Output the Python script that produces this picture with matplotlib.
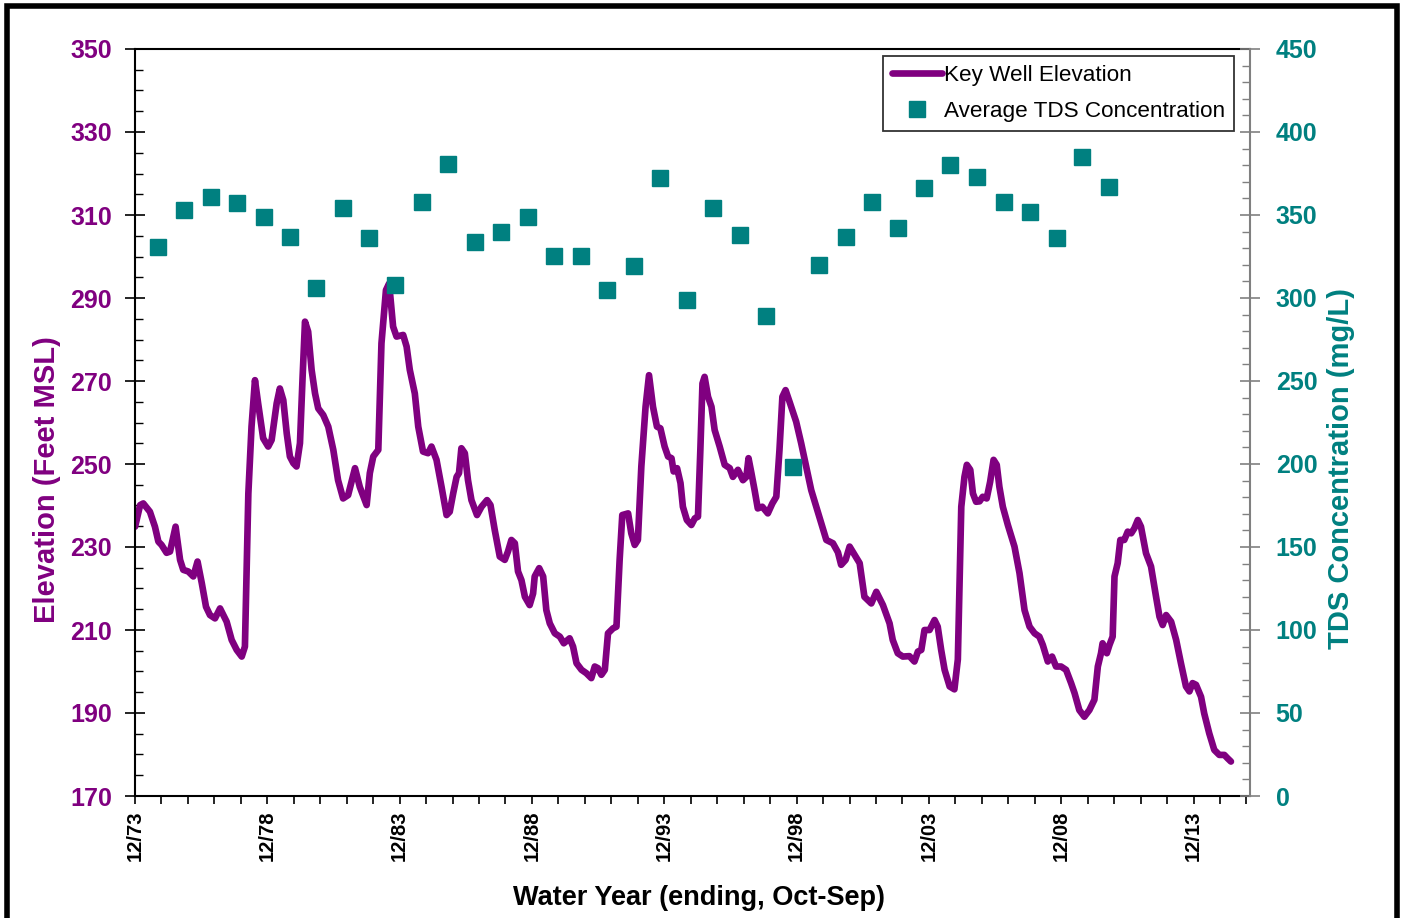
import matplotlib
matplotlib.use("Agg")
import matplotlib.pyplot as plt
from matplotlib.patches import Rectangle
from matplotlib.ticker import FixedLocator, MultipleLocator

plt.rcParams['font.family'] = ['Liberation Sans', 'DejaVu Sans']
plt.rcParams['font.weight'] = 'bold'

# ---------------- data ----------------
elev_dates = [
    1973.92, 1974.11, 1974.23, 1974.48, 1974.67, 1974.80, 1974.92, 1975.11, 1975.24, 1975.45,
    1975.62, 1975.74, 1975.93, 1976.12, 1976.28, 1976.44, 1976.60, 1976.75, 1976.94, 1977.13,
    1977.38, 1977.57, 1977.76, 1977.95, 1978.07, 1978.20, 1978.32, 1978.45, 1978.57, 1978.76,
    1978.95, 1979.08, 1979.27, 1979.39, 1979.52, 1979.65, 1979.77, 1979.90, 1980.02, 1980.15,
    1980.25, 1980.34, 1980.46, 1980.59, 1980.72, 1980.84, 1981.03, 1981.22, 1981.41, 1981.59,
    1981.78, 1981.97, 1982.23, 1982.41, 1982.67, 1982.79, 1982.92, 1983.11, 1983.23, 1983.40,
    1983.52, 1983.67, 1983.80, 1984.05, 1984.18, 1984.30, 1984.49, 1984.62, 1984.80, 1984.99,
    1985.12, 1985.31, 1985.50, 1985.69, 1985.81, 1985.94, 1986.07, 1986.16, 1986.25, 1986.38,
    1986.50, 1986.63, 1986.84, 1987.01, 1987.22, 1987.35, 1987.51, 1987.70, 1987.89, 1988.01,
    1988.14, 1988.27, 1988.39, 1988.52, 1988.65, 1988.83, 1988.96, 1989.02, 1989.19, 1989.34,
    1989.46, 1989.59, 1989.78, 1989.97, 1990.12, 1990.34, 1990.47, 1990.60, 1990.79, 1990.97,
    1991.16, 1991.29, 1991.41, 1991.54, 1991.67, 1991.79, 1991.98, 1992.11, 1992.23, 1992.33,
    1992.55, 1992.67, 1992.80, 1992.92, 1993.05, 1993.21, 1993.34, 1993.49, 1993.64, 1993.77,
    1993.93, 1994.06, 1994.19, 1994.27, 1994.40, 1994.53, 1994.62, 1994.77, 1994.94, 1995.07,
    1995.19, 1995.28, 1995.36, 1995.44, 1995.57, 1995.70, 1995.82, 1996.01, 1996.20, 1996.39,
    1996.51, 1996.70, 1996.89, 1997.02, 1997.10, 1997.21, 1997.33, 1997.45, 1997.62, 1997.83,
    1998.00, 1998.15, 1998.27, 1998.38, 1998.50, 1998.65, 1998.90, 1999.09, 1999.28, 1999.47,
    1999.66, 1999.85, 2000.04, 2000.29, 2000.48, 2000.60, 2000.77, 2000.92, 2001.11, 2001.30,
    2001.48, 2001.74, 2001.93, 2002.18, 2002.43, 2002.55, 2002.74, 2002.93, 2003.18, 2003.37,
    2003.50, 2003.63, 2003.75, 2003.94, 2004.13, 2004.25, 2004.38, 2004.51, 2004.70, 2004.88,
    2005.01, 2005.14, 2005.26, 2005.35, 2005.48, 2005.58, 2005.70, 2005.83, 2005.95, 2006.10,
    2006.23, 2006.36, 2006.48, 2006.58, 2006.71, 2006.90, 2007.15, 2007.34, 2007.53, 2007.72,
    2007.91, 2008.09, 2008.22, 2008.41, 2008.57, 2008.72, 2008.91, 2009.10, 2009.29, 2009.42,
    2009.60, 2009.79, 2009.98, 2010.17, 2010.30, 2010.42, 2010.48, 2010.64, 2010.74, 2010.86,
    2010.93, 2011.05, 2011.15, 2011.30, 2011.43, 2011.56, 2011.68, 2011.81, 2011.93, 2012.12,
    2012.31, 2012.50, 2012.63, 2012.75, 2012.88, 2013.07, 2013.26, 2013.44, 2013.63, 2013.76,
    2013.88, 2014.01, 2014.20, 2014.32, 2014.51, 2014.70, 2014.89, 2015.08, 2015.20, 2015.33,
]
elev_values = [
    234.9, 240.1, 240.5, 238.5, 234.9, 231.3, 230.5, 228.6, 228.9, 234.9,
    226.9, 224.5, 224.1, 222.9, 226.5, 221.3, 215.6, 213.6, 212.8, 215.2,
    212.0, 207.6, 205.2, 203.6, 206.0, 242.9, 259.0, 270.2, 264.6, 256.2,
    254.2, 255.8, 264.6, 268.2, 265.4, 257.4, 251.8, 250.2, 249.4, 255.0,
    271.0, 284.3, 281.9, 272.7, 267.0, 263.4, 261.8, 259.0, 253.4, 246.1,
    241.7, 242.5, 249.0, 244.5, 240.1, 247.8, 251.8, 253.4, 279.1, 291.9,
    293.5, 283.1, 280.7, 281.1, 278.3, 272.7, 267.0, 259.0, 253.0, 252.6,
    254.2, 251.0, 244.5, 237.7, 238.5, 242.9, 246.9, 247.8, 253.8, 252.6,
    246.1, 241.3, 237.7, 239.7, 241.3, 240.1, 234.1, 227.7, 226.9, 228.9,
    231.7, 230.9, 224.1, 222.0, 218.0, 216.0, 218.8, 222.9, 224.9, 222.9,
    214.8, 211.6, 209.2, 208.4, 206.8, 208.0, 206.0, 202.0, 200.4, 199.6,
    198.4, 201.2, 200.8, 199.2, 200.4, 209.2, 210.4, 210.8, 226.9, 237.7,
    238.1, 233.3, 230.5, 231.7, 249.4, 263.8, 271.4, 263.8, 259.0, 258.6,
    254.2, 251.8, 251.4, 248.2, 249.0, 245.4, 239.7, 236.5, 235.3, 236.9,
    237.3, 253.4, 269.4, 271.0, 266.2, 263.8, 258.2, 254.2, 249.8, 249.0,
    246.9, 248.6, 246.1, 246.9, 251.4, 247.8, 243.7, 239.3, 239.7, 238.1,
    240.5, 242.1, 253.4, 266.2, 267.8, 265.0, 260.2, 255.0, 249.4, 243.7,
    239.7, 235.7, 231.7, 230.9, 228.7, 225.7, 226.9, 230.1, 228.1, 226.1,
    218.0, 216.4, 219.2, 216.0, 211.6, 207.6, 204.4, 203.6, 203.7, 202.4,
    204.8, 205.2, 210.0, 210.0, 212.4, 210.8, 205.2, 200.4, 196.4, 195.7,
    202.9, 239.7, 246.9, 249.8, 248.6, 242.9, 240.9, 241.0, 242.1, 241.7,
    245.7, 251.0, 249.8, 244.5, 239.7, 235.3, 230.1, 223.7, 214.8, 210.8,
    209.2, 208.4, 206.4, 202.4, 203.6, 201.2, 201.2, 200.4, 197.2, 194.8,
    190.7, 189.1, 190.7, 193.2, 201.2, 204.4, 206.8, 204.4, 206.4, 208.4,
    222.9, 226.1, 231.7, 231.7, 233.7, 233.3, 234.5, 236.5, 234.9, 228.5,
    225.3, 218.0, 213.2, 211.2, 213.6, 212.0, 207.6, 202.0, 196.4, 195.2,
    197.2, 196.8, 193.9, 189.9, 185.1, 181.1, 179.9, 179.9, 179.1, 178.3,
]

tds_dates = [
    1974.79, 1975.77, 1976.79, 1977.77, 1978.79, 1979.77, 1980.75, 1981.77, 1982.75, 1983.73,
    1984.75, 1985.73, 1986.75, 1987.74, 1988.76, 1989.74, 1990.76, 1991.74, 1992.76, 1993.74,
    1994.76, 1995.74, 1996.76, 1997.75, 1998.77, 1999.75, 2000.77, 2001.75, 2002.73, 2003.75,
    2004.73, 2005.75, 2006.74, 2007.75, 2008.74, 2009.72, 2010.74,
]
tds_values = [
    331, 353, 361, 357, 349, 337, 306, 354, 336, 308,
    358, 381, 334, 340, 349, 325, 325, 305, 319, 372,
    299, 354, 338, 289, 198, 320, 337, 358, 342, 366,
    380, 373, 358, 352, 336, 385, 367,
]

xtick_years = [1973, 1978, 1983, 1988, 1993, 1998, 2003, 2008, 2013]
xtick_labels = ["12/%02d" % (y % 100) for y in xtick_years]

PURPLE = "#800080"
TEAL = "#008080"
GRAY = "#808080"

# ---------------- figure ----------------
W, H = 1401, 918
fig = plt.figure(figsize=(W / 100, H / 100), dpi=100)
ax = fig.add_axes([135 / W, 1 - 796 / H, (1250 - 135) / W, (796 - 49) / H])
ax2 = ax.twinx()

line, = ax.plot(elev_dates, elev_values, color=PURPLE, lw=4.8,
                solid_joinstyle='round', solid_capstyle='round',
                label="Key Well Elevation")
sq, = ax2.plot(tds_dates, tds_values, ls='none', marker='s', ms=11.5,
               color=TEAL, mec=TEAL, label="Average TDS Concentration")

x0 = 1973 + 11 / 12
ax.set_xlim(x0, 2016.05)
ax.set_ylim(170, 350)
ax2.set_ylim(0, 450)

# x ticks at December of each labeled year
ax.xaxis.set_major_locator(FixedLocator([y + 11 / 12 for y in xtick_years]))
ax.set_xticklabels(xtick_labels, rotation=90, fontsize=14.5, fontweight='bold')
ax.xaxis.set_minor_locator(MultipleLocator(1, offset=11 / 12))
ax.tick_params(axis='x', which='both', direction='out', length=6, width=1.2,
               color='black', pad=4.5)

ax.yaxis.set_major_locator(MultipleLocator(20, offset=10))
ax.yaxis.set_minor_locator(MultipleLocator(5))
ax.tick_params(axis='y', which='major', direction='inout', length=15, width=1.2,
               labelsize=18, labelcolor=PURPLE, pad=9)
ax.tick_params(axis='y', which='minor', direction='in', length=6, width=1.0)

ax2.yaxis.set_major_locator(MultipleLocator(50))
ax2.yaxis.set_minor_locator(MultipleLocator(10))
ax2.tick_params(axis='y', which='major', direction='inout', length=15, width=1.2,
                color=GRAY, labelsize=18, labelcolor=TEAL, pad=11)
ax2.tick_params(axis='y', which='minor', direction='in', length=6, width=1.0, color=GRAY)

for s in ['left', 'bottom', 'top']:
    ax.spines[s].set_color('black')
    ax.spines[s].set_linewidth(1.5)
ax.spines['right'].set_visible(False)
ax2.spines['left'].set_visible(False)
ax2.spines['top'].set_visible(False)
ax2.spines['bottom'].set_visible(False)
ax2.spines['right'].set_color(GRAY)
ax2.spines['right'].set_linewidth(1.5)

ax.set_xlabel("Water Year (ending, Oct-Sep)", fontsize=19.5, fontweight='bold')
ax.xaxis.set_label_coords(0.5054, -0.119)
ax.set_ylabel("Elevation (Feet MSL)", fontsize=21, fontweight='bold', color=PURPLE)
ax.yaxis.set_label_coords(-0.066, 0.423)
ax2.set_ylabel("TDS Concentration (mg/L)", fontsize=21, fontweight='bold', color=TEAL)
ax2.yaxis.set_label_coords(1.069, 0.438)

leg = ax2.legend(handles=[line, sq], loc='upper right',
                 bbox_to_anchor=((1234 - 135) / 1115, (796 - 56) / 747),
                 borderaxespad=0, prop={'size': 16.2, 'weight': 'normal'},
                 frameon=True, fancybox=False,
                 edgecolor='black', handlelength=2.2, handletextpad=0.1,
                 borderpad=0.4, labelspacing=0.65, numpoints=1)
leg.get_frame().set_linewidth(1.3)

# outer black frame
fig.patches.append(Rectangle((7.5 / W, -0.05), (1397 - 7.5) / W, 1.05 - 5.5 / H,
                             transform=fig.transFigure, fill=False,
                             edgecolor='black', linewidth=4.0, clip_on=False))

fig.savefig("out.png", dpi=100)
